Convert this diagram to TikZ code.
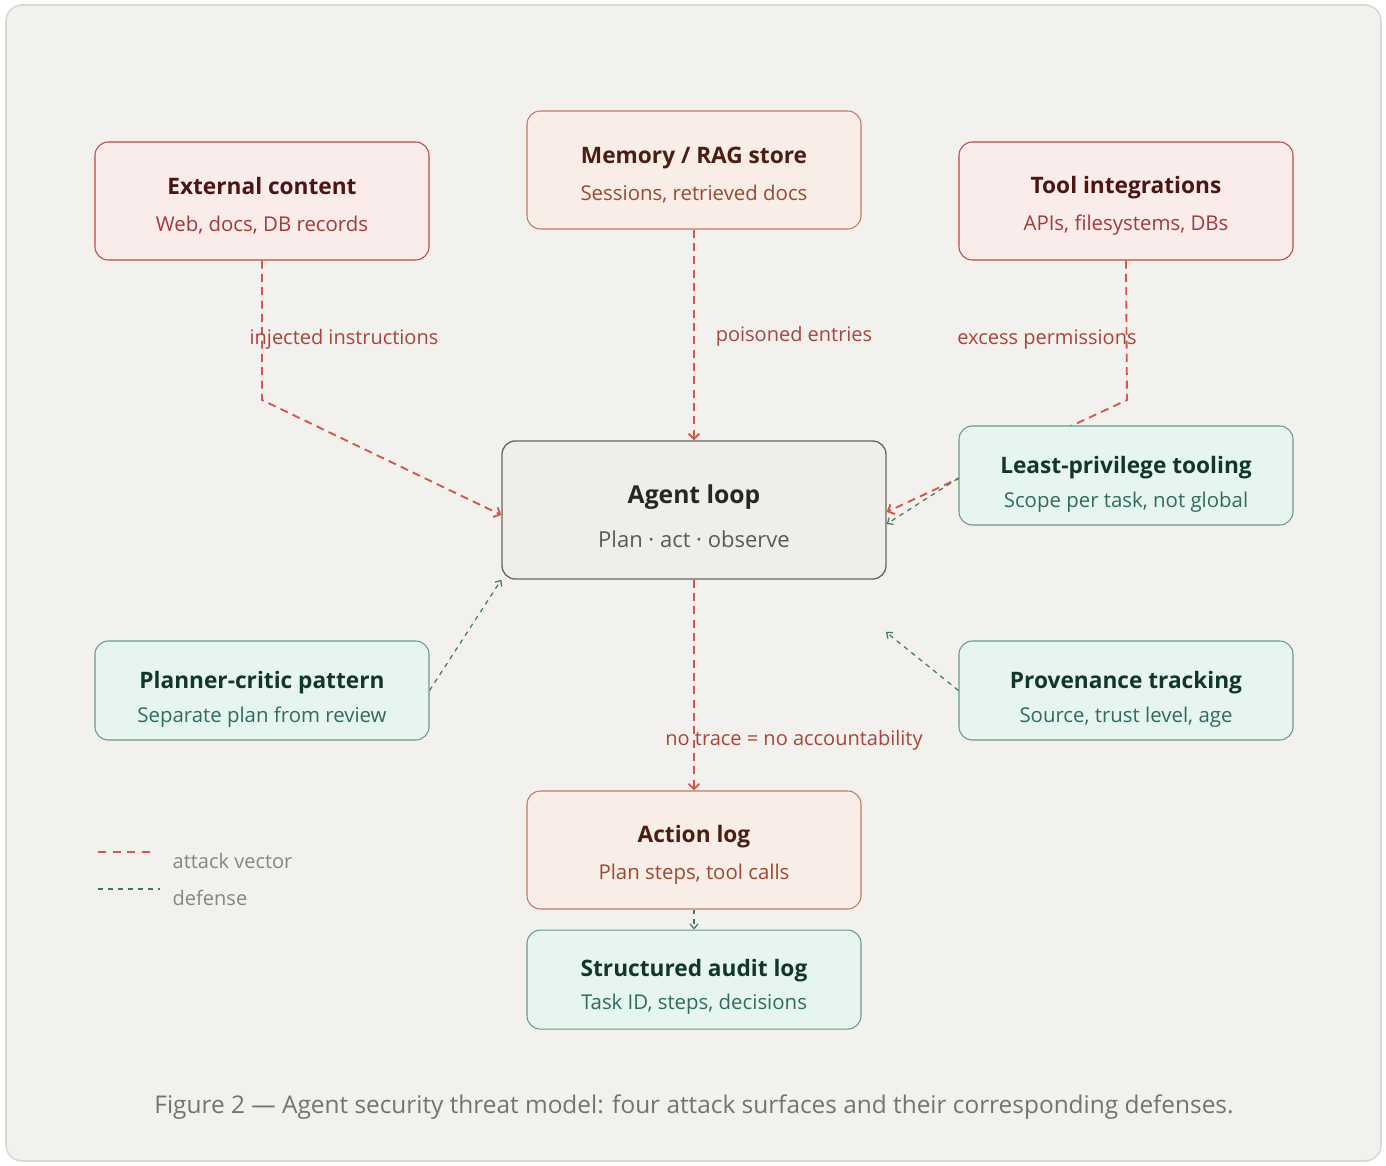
\documentclass[tikz,border=0pt]{standalone}
\usepackage{fontspec}
\setmainfont{Open Sans}
\setsansfont{Open Sans}
\usetikzlibrary{positioning,arrows.meta}

\definecolor{pagebg}{HTML}{F3F1ED}
\definecolor{pageline}{HTML}{DAD8D2}
\definecolor{threatfill}{HTML}{FAECEB}
\definecolor{threatline}{HTML}{B84A42}
\definecolor{threattitle}{HTML}{4A1512}
\definecolor{threatsub}{HTML}{A33A35}
\definecolor{storefill}{HTML}{F9EDE8}
\definecolor{storeline}{HTML}{BF7A64}
\definecolor{storetitle}{HTML}{4A1E12}
\definecolor{storesub}{HTML}{9A4A30}
\definecolor{guardfill}{HTML}{E6F5EF}
\definecolor{guardline}{HTML}{6A9A84}
\definecolor{guardtitle}{HTML}{12362A}
\definecolor{guardsub}{HTML}{2F6E55}
\definecolor{corefill}{HTML}{F0EEEA}
\definecolor{coreline}{HTML}{666666}
\definecolor{attackred}{HTML}{D6554C}
\definecolor{defgreen}{HTML}{3A7A5E}
\definecolor{labelred}{HTML}{A8443A}
\definecolor{softgray}{HTML}{858585}

\newcommand{\subfont}{\fontsize{15.3}{18}\selectfont\mdseries}
\newcommand{\headroom}[1]{\rule{0pt}{#1}}

\begin{document}
\begin{tikzpicture}[
  x=0.75pt, y=-0.75pt,
  node distance=15pt,
  box/.style={draw, rounded corners=10pt, align=center, line width=0.8pt,
              minimum width=250.5pt, inner sep=0pt},
  threat/.style={box, draw=threatline, fill=threatfill, minimum height=88.5pt,
                 font=\fontsize{17}{20}\selectfont\bfseries, text=threattitle},
  store/.style={box, draw=storeline, fill=storefill, minimum height=88.5pt,
                font=\fontsize{17}{20}\selectfont\bfseries, text=storetitle},
  guard/.style={box, draw=guardline, fill=guardfill, minimum height=74.25pt,
                font=\fontsize{17}{20}\selectfont\bfseries, text=guardtitle},
  core/.style={box, draw=coreline, fill=corefill, line width=1pt,
               minimum width=288pt, minimum height=103.5pt,
               font=\fontsize{18.5}{22}\selectfont\bfseries, text=black!85},
  attack/.style={draw=attackred, line width=1.4pt, dash pattern=on 6pt off 4pt,
                 -{Straight Barb[length=4pt,width=8pt]}},
  defend/.style={draw=defgreen, line width=0.9pt, dash pattern=on 3.5pt off 3.5pt,
                 -{Straight Barb[length=3.5pt,width=6pt]}},
  lbl/.style={font=\fontsize{15}{18}\selectfont, text=labelred},
  legend/.style={font=\fontsize{15}{18}\selectfont, text=softgray, anchor=west}
]
\useasboundingbox (0,0) rectangle (1386,1166);
\draw[pageline, fill=pagebg, line width=1.2pt, rounded corners=12pt]
  (6,5) rectangle (1381,1161);

% attack surfaces
\node[threat] (ext) at (262,201)
  {\headroom{20pt}External content\\[8pt]{\subfont\color{threatsub}Web, docs, DB records}};
\node[store] (mem) at (694,170)
  {\headroom{20pt}Memory / RAG store\\[8pt]{\subfont\color{storesub}Sessions, retrieved docs}};
\node[threat] (tool) at (1126,201)
  {\headroom{20pt}Tool integrations\\[8pt]{\subfont\color{threatsub}APIs, filesystems, DBs}};
\node[core] (loop) at (694,510)
  {\headroom{24pt}Agent loop\\[11pt]{\subfont\fontsize{16.5}{19}\selectfont\color{black!65}Plan · act · observe}};

\draw[attack] (ext.south) -- (262,400) -- ([yshift=-3.75pt]loop.west);
\node[lbl] (lblext) at (344,339) {injected instructions};
\draw[attack] (mem) -- (loop);
\node[lbl] (lblmem) at (794,336) {poisoned entries};
\draw[attack] (tool.south) -- (1127,400) -- ([yshift=-1.5pt]loop.east);
\node[lbl] (lbltool) at (1047,340) {excess permissions};

% defenses
\node[guard] (least) at (1126,475.5)
  {\headroom{26pt}Least-privilege tooling\\[5pt]{\subfont\color{guardsub}Scope per task, not global}};
\node[guard] (planner) at (262,690.5)
  {\headroom{26pt}Planner-critic pattern\\[5pt]{\subfont\color{guardsub}Separate plan from review}};
\node[guard] (prov) at (1126,690.5)
  {\headroom{26pt}Provenance tracking\\[5pt]{\subfont\color{guardsub}Source, trust level, age}};
\coordinate (provtip) at (886,632);

\draw[defend] ([yshift=-2pt]least.west) -- ([yshift=-10.5pt]loop.east);
\draw[defend] (planner.east) -- (loop.south west);
\draw[defend] (prov.west) -- (provtip);

% logging
\node[store] (act) at (694,850)
  {\headroom{20pt}Action log\\[8pt]{\subfont\color{storesub}Plan steps, tool calls}};
\node[guard, below=15pt of act] (audit)
  {\headroom{24pt}Structured audit log\\[5pt]{\subfont\color{guardsub}Task ID, steps, decisions}};

\draw[attack] (loop) -- (act);
\node[lbl] (lblact) at (794,740) {no trace = no accountability};
\draw[defend] (act) -- (audit);

% legend
\draw[attackred, line width=1.4pt, dash pattern=on 6pt off 5pt] (98,852) -- (155,852);
\node[legend] (legatk) at (168,861) {attack vector};
\draw[defgreen, line width=0.9pt, dash pattern=on 3.5pt off 4pt] (98,889) -- (160,889);
\node[legend] (legdef) at (168,898) {defense};

\node[font=\fontsize{18.3}{21}\selectfont, text=black!55] (caption) at (694,1107)
  {Figure 2 — Agent security threat model: four attack surfaces and their corresponding defenses.};
\end{tikzpicture}
\end{document}
